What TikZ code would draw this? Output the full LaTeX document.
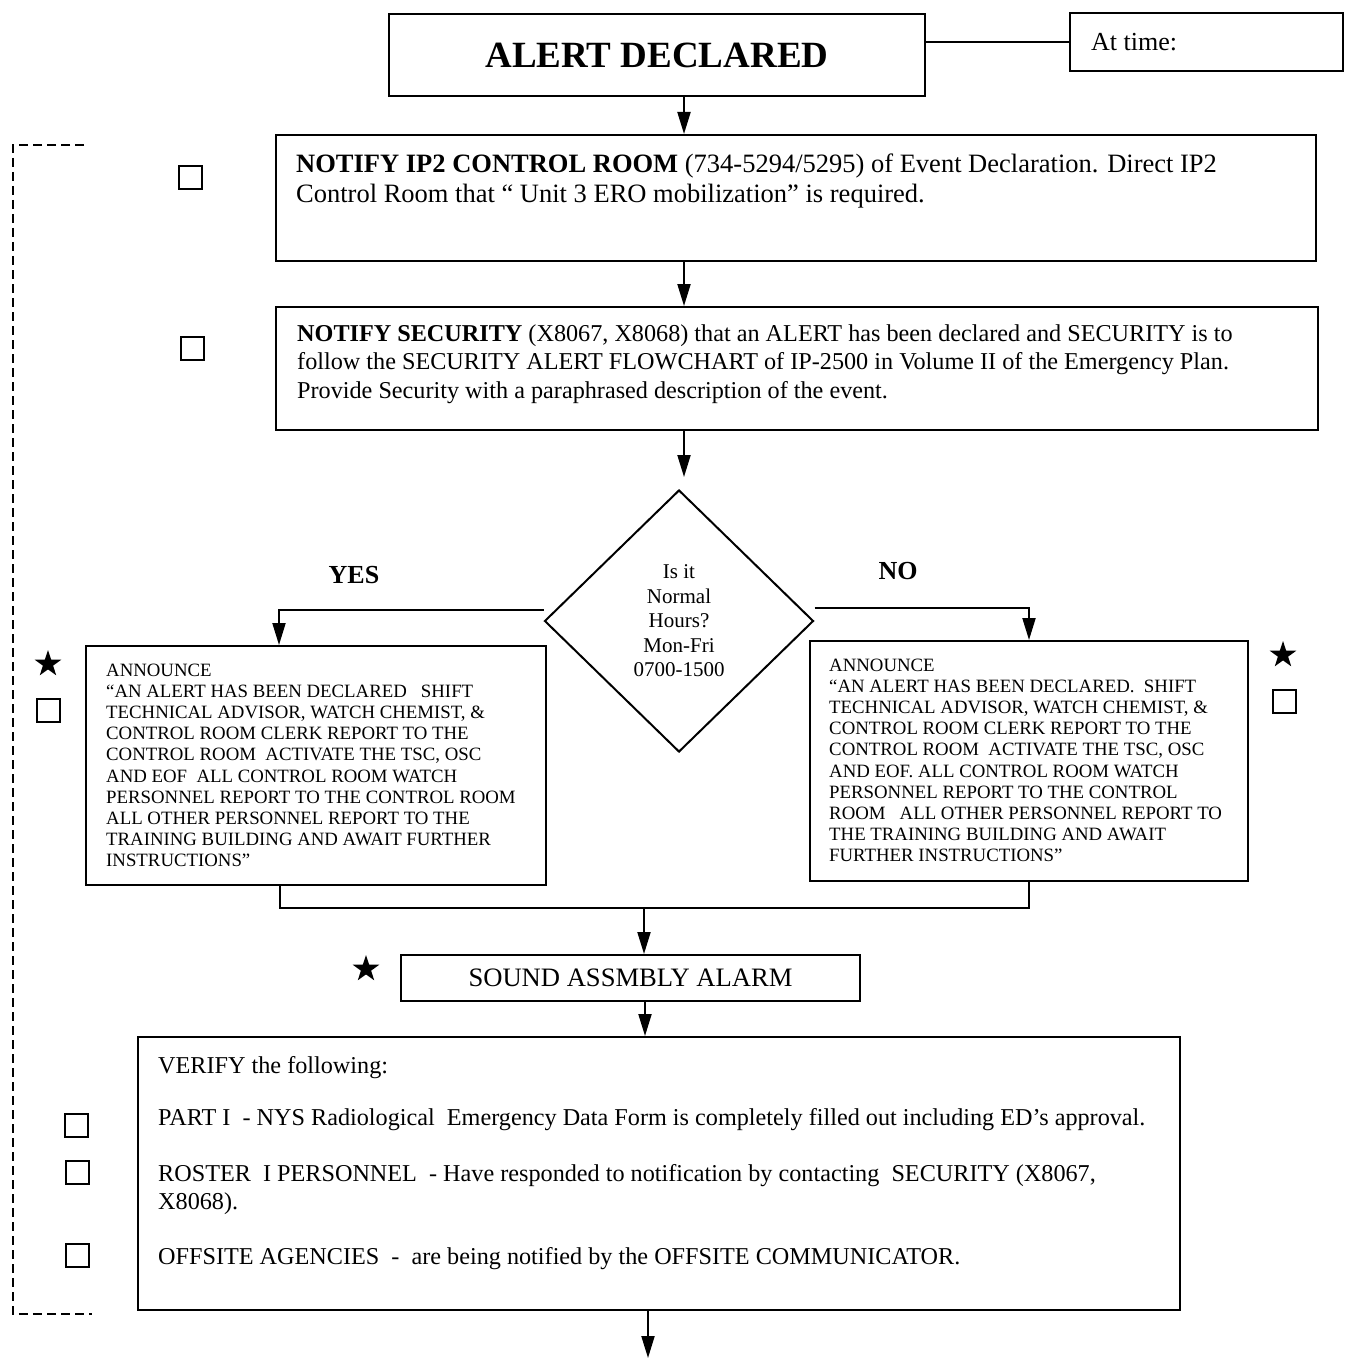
\documentclass[tikz,border=0pt]{standalone}
\usepackage{fontspec}
\setmainfont{Liberation Serif}
\usepackage{tikz}
\usetikzlibrary{arrows.meta,shapes.geometric}

\newcommand{\fs}[2]{\fontsize{#1}{#2}\selectfont}

\begin{document}
\begin{tikzpicture}[x=1pt,y=-1pt,
  box/.style={draw,line width=2pt,inner sep=0pt},
  txt/.style={inner sep=0pt,align=left,anchor=base west},
  con/.style={line width=2pt},
  arr/.style={line width=2pt,-{Triangle[length=22pt,width=13pt]}},
  chk/.style={draw,line width=2pt,minimum size=23pt,inner sep=0pt},
  starmark/.style={star,star points=5,star point ratio=2.6,fill=black,minimum size=28pt,inner sep=0pt}]
\useasboundingbox (0,0) rectangle (1353,1364);

% top
\node[box,minimum width=536pt,minimum height=82pt,font=\bfseries\fs{37}{40}] (alert) at (657,55) {ALERT DECLARED};
\node[box,minimum width=273pt,minimum height=58pt] (attime) at (1206.5,42) {};
\node[txt,font=\fs{26}{30}] (attimetxt) at (1091,51) {At time:};
\draw[con] (alert.east |- attime.west) -- (attime.west);

\coordinate (sp) at (684,0);

% notify boxes (text nodes sit on the baseline of their last line)
\node[box,minimum width=1040pt,minimum height=126pt] (ctrl) at (796,198) {};
\node[txt,font=\fs{26.5}{30}] (ctrltxt) at (296,203) {\textbf{NOTIFY IP2 CONTROL ROOM} (734-5294/5295) of Event Declaration. Direct IP2\\Control Room that “ Unit 3 ERO mobilization” is required.};

\node[box,minimum width=1042pt,minimum height=123pt] (sec) at (797,368.5) {};
\node[txt,font=\fs{24.2}{28.5}] (sectxt) at (297,398) {\textbf{NOTIFY SECURITY} (X8067, X8068) that an ALERT has been declared and SECURITY is to\\follow the SECURITY ALERT FLOWCHART of IP-2500 in Volume II of the Emergency Plan.\\Provide Security with a paraphrased description of the event.};

\draw[arr] (alert.south -| sp) -- (ctrl.north -| sp);
\draw[arr] (ctrl.south -| sp) -- (sec.north -| sp);

% decision
\node[draw,line width=2pt,diamond,aspect=1,minimum width=269pt,minimum height=262pt,inner sep=0pt,align=center,font=\fs{21}{24.5}] (dia) at (679,621) {Is it\\Normal\\Hours?\\Mon-Fri\\0700-1500};
\draw[arr,shorten >=12pt] (sec.south -| sp) -- (dia.north -| sp);

\node[font=\bfseries\fs{26}{30}] (yeslbl) at (354,575) {YES};
\node[font=\bfseries\fs{26}{30}] (nolbl) at (898,571) {NO};

% announce boxes
\node[box,minimum width=460pt,minimum height=239pt] (yes) at (316,765.5) {};
\node[txt,font=\fs{18.8}{21.2}] (yestxt) at (106,866.8) {ANNOUNCE\\“AN ALERT HAS BEEN DECLARED\ \ \ SHIFT\\TECHNICAL ADVISOR, WATCH CHEMIST, \&\\CONTROL ROOM CLERK REPORT TO THE\\CONTROL ROOM\ \ ACTIVATE THE TSC, OSC\\AND EOF\ \ ALL CONTROL ROOM WATCH\\PERSONNEL REPORT TO THE CONTROL ROOM\\ALL OTHER PERSONNEL REPORT TO THE\\TRAINING BUILDING AND AWAIT FURTHER\\INSTRUCTIONS”};

\node[box,minimum width=438pt,minimum height=240pt] (no) at (1029,761) {};
\node[txt,font=\fs{18.8}{21.2}] (notxt) at (829,861.8) {ANNOUNCE\\“AN ALERT HAS BEEN DECLARED.\ \ SHIFT\\TECHNICAL ADVISOR, WATCH CHEMIST, \&\\CONTROL ROOM CLERK REPORT TO THE\\CONTROL ROOM\ \ ACTIVATE THE TSC, OSC\\AND EOF. ALL CONTROL ROOM WATCH\\PERSONNEL REPORT TO THE CONTROL\\ROOM\ \ \ ALL OTHER PERSONNEL REPORT TO\\THE TRAINING BUILDING AND AWAIT\\FURTHER INSTRUCTIONS”};

\draw[arr] ([yshift=11pt]dia.west) -| ([xshift=-37pt]yes.north);
\draw[arr] ([yshift=13pt]dia.east) -| (no.north);

% join and alarm
\coordinate (join) at (644,908);
\draw[con] ([xshift=-36pt]yes.south) |- (join) -| (no.south);
\node[box,minimum width=459pt,minimum height=46pt,font=\fs{26.6}{30}] (sound) at (630.5,978) {SOUND ASSMBLY ALARM};
\draw[arr] (join) -- (join |- sound.north);

% verify
\node[box,minimum width=1042pt,minimum height=273pt] (verify) at (659,1173.5) {};
\node[txt,font=\fs{24.2}{28}] (vhead) at (158,1073) {VERIFY the following:};
\node[txt,font=\fs{24.2}{28}] (vpart) at (158,1125) {PART I\ \ - NYS Radiological\ \ Emergency Data Form is completely filled out including ED’s approval.};
\node[txt,font=\fs{24.2}{28}] (vroster) at (158,1209) {ROSTER\ \ I PERSONNEL\ \ - Have responded to notification by contacting\ \ SECURITY (X8067,\\X8068).};
\node[txt,font=\fs{24.2}{28}] (voff) at (158,1264) {OFFSITE AGENCIES\ \ -\ \ are being notified by the OFFSITE COMMUNICATOR.};

\coordinate (sp2) at (645,0);
\draw[arr] (sound.south -| sp2) -- (verify.north -| sp2);
\coordinate (out) at (648,1358);
\draw[arr] (verify.south -| out) -- (out);

% check boxes and stars
\node[chk] (c1) at (190,178) {};
\node[chk] (c2) at (192,348) {};
\node[chk] (c3) at (48,710) {};
\node[chk] (c4) at (1284,701) {};
\node[chk] (c5) at (76,1125) {};
\node[chk] (c6) at (77,1172) {};
\node[chk] (c7) at (77,1255) {};

\node[starmark] (s1) at (48,664) {};
\node[starmark] (s2) at (1283,655) {};
\node[starmark] (s3) at (366,969) {};

% dashed bracket
\coordinate (brtop) at (84,145);
\coordinate (brbot) at (92,1314);
\draw[con,dash pattern=on 9pt off 5pt] (brtop) -| (13,1314) -- (brbot);

\end{tikzpicture}
\end{document}
